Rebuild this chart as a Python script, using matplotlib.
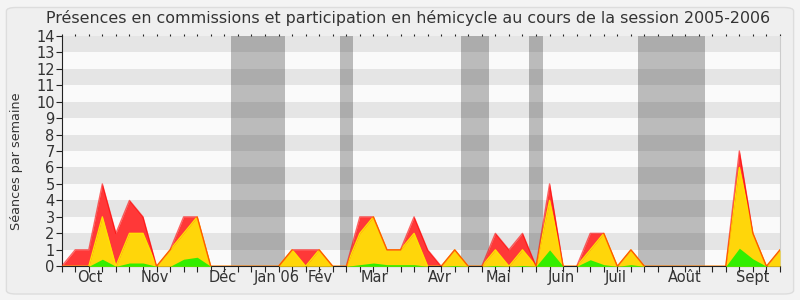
import numpy as np
import matplotlib.pyplot as plt
from matplotlib.patches import FancyBboxPatch

plt.rcParams['font.family'] = ['DejaVu Sans']

# semaines de la session (index 0..53)
semaines = np.arange(54)

# total des séances (rouge), commissions (jaune), hémicycle (vert)
total = [0, 1, 1, 5, 2, 4, 3, 0, 1, 3, 3, 0, 0, 0, 0, 0, 0, 1, 1, 1,
         0, 0, 3, 3, 1, 1, 3, 1, 0, 1, 0, 0, 2, 1, 2, 0, 5, 0, 0, 2,
         2, 0, 1, 0, 0, 0, 0, 0, 0, 0, 7, 2, 0, 1]
jaune = [0, 0, 0, 3, 0, 2, 2, 0, 1, 2, 3, 0, 0, 0, 0, 0, 0, 1, 0, 1,
         0, 0, 2, 3, 1, 1, 2, 0, 0, 1, 0, 0, 1, 0, 1, 0, 4, 0, 0, 1,
         2, 0, 1, 0, 0, 0, 0, 0, 0, 0, 6, 2, 0, 1]
vert = [0, 0, 0, 0.43, 0, 0.2, 0.2, 0, 0, 0.43, 0.55, 0, 0, 0, 0, 0, 0, 0, 0, 0,
        0, 0, 0.1, 0.2, 0.1, 0.1, 0.1, 0, 0, 0.05, 0, 0, 0.05, 0, 0.05, 0, 1.0, 0, 0, 0.4,
        0.1, 0, 0.1, 0, 0, 0, 0, 0, 0, 0, 1.1, 0.45, 0, 0]

# vacances parlementaires (en semaines)
vacances = [(12.5, 16.5), (20.5, 21.5), (29.5, 31.5), (34.5, 35.5), (42.5, 47.5)]

mois = ['Oct', 'Nov', 'Déc', 'Jan 06', 'Fév', 'Mar', 'Avr', 'Mai', 'Juin', 'Juil', 'Août', 'Sept']
mois_pos = [2.1, 6.9, 11.9, 15.9, 19.1, 23.1, 27.9, 32.2, 36.9, 40.9, 46.0, 51.0]

fig = plt.figure(figsize=(8, 3), dpi=100)
fig.patch.set_facecolor('#f4f4f4')
fig.patches.append(FancyBboxPatch((0.008, 0.02), 0.984, 0.955, boxstyle='round,pad=0,rounding_size=0.012',
                                  transform=fig.transFigure, facecolor='#efefef',
                                  edgecolor='#dddddd', linewidth=1, zorder=-5))

ax = fig.add_axes([0.0771, 0.1123, 0.8979, 0.7687])
ax.set_zorder(2)
ax.set_facecolor('#fafafa')

# bandes horizontales
for k in range(1, 14, 2):
    ax.axhspan(k, k + 1, color='#e5e5e5', lw=0, zorder=0)

for a, b in vacances:
    ax.axvspan(a, b, color='#222222', alpha=0.29, lw=0, zorder=1)

ax.fill_between(semaines, total, color='#ff3838', lw=0, zorder=2)
ax.fill_between(semaines, jaune, color='#ffd60a', lw=0, zorder=3)
ax.plot(semaines, jaune, color='#ffe100', lw=1, zorder=4)
ax.fill_between(semaines, vert, color='#33ee00', lw=0, zorder=5)
ax.plot(semaines, total, color='#ff0000', lw=1, alpha=0.6, zorder=6)

ax.set_xlim(0, 53)
ax.set_ylim(0, 14)
ax.set_yticks(range(15))
ax.xaxis.remove_overlapping_locs = False
ax.set_xticks(semaines)
ax.set_xticklabels([])
ax.set_xticks(mois_pos, minor=True)
ax.set_xticklabels(mois, minor=True)

txt = '#333333'
ax.tick_params(axis='x', which='major', direction='out', length=4, width=0.8, color='#222222',
               top=True)
ax.tick_params(axis='x', which='minor', length=0, pad=3, labelsize=10.5, labelcolor=txt)
ax.tick_params(axis='y', direction='out', length=4, width=0.8, color='#222222',
               labelsize=10.5, labelcolor=txt, pad=1)
ax.xaxis.set_tick_params(which='major', labeltop=False)
for t in ax.xaxis.get_major_ticks():
    t.tick2line.set_markersize(1.2)
    t.tick2line.set_color('#444444')

ax.spines['top'].set_visible(False)
ax.spines['right'].set_color('#cccccc')
ax.spines['left'].set_color('#222222')
ax.spines['bottom'].set_color('#222222')

ax.set_ylabel('Séances par semaine', fontsize=9.2, color=txt)
ax.yaxis.set_label_coords(-0.054, 0.455)
fig.text(0.51, 0.94, 'Présences en commissions et participation en hémicycle au cours de la session 2005-2006',
         ha='center', va='center', fontsize=11.4, color=txt)

fig.savefig('out.png', dpi=100, facecolor=fig.get_facecolor())
